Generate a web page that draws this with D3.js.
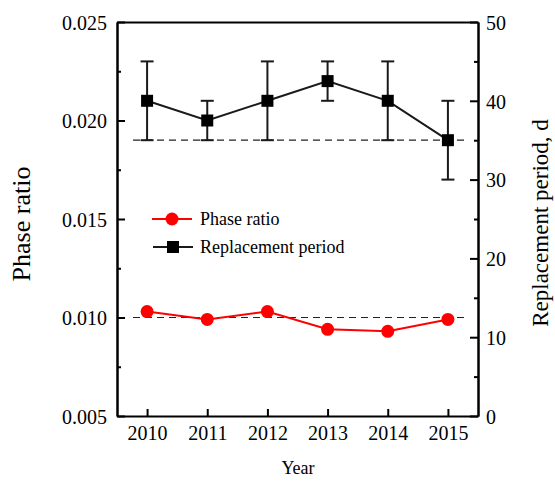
<!DOCTYPE html>
<html><head><meta charset="utf-8">
<script src="https://cdn.jsdelivr.net/npm/d3@7/dist/d3.min.js"></script>
<style>
body{margin:0;background:#fff;}
text{font-family:"Liberation Serif","Times New Roman",serif;fill:#000;}
</style></head>
<body><svg id="c" width="555" height="481"></svg>
<script>
const years = [2010, 2011, 2012, 2013, 2014, 2015];
const phaseRatio = [0.0103, 0.0099, 0.0103, 0.0094, 0.0093, 0.0099];
const replacement = [40, 37.5, 40, 42.5, 40, 35];
const replUpper = [45, 40, 45, 45, 45, 40];
const replLower = [35, 35, 35, 40, 35, 30];
const leftTicks = [0.005, 0.010, 0.015, 0.020, 0.025];
const leftMinor = [0.0075, 0.0125, 0.0175, 0.0225];
const rightTicks = [0, 10, 20, 30, 40, 50];
const rightMinor = [5, 15, 25, 35, 45];
const phaseRef = 0.010;
const replRef = 35;

const svg = d3.select("#c");
const L = 117, R = 478, T = 22, B = 416;
const x = d3.scaleLinear().domain([2009.5, 2015.5]).range([L, R]);
const yL = d3.scaleLinear().domain([0.005, 0.025]).range([B, T]);
const yR = d3.scaleLinear().domain([0, 50]).range([B, T]);

// dashed reference lines
const dashX0 = 133, dashX1 = 467;
svg.append("line").attr("x1", dashX0).attr("x2", dashX1)
  .attr("y1", yR(replRef)).attr("y2", yR(replRef))
  .attr("stroke", "#222").attr("stroke-width", 1.2).attr("stroke-dasharray", "7,5");
svg.append("line").attr("x1", dashX0).attr("x2", dashX1)
  .attr("y1", yL(phaseRef)).attr("y2", yL(phaseRef))
  .attr("stroke", "#222").attr("stroke-width", 1.2).attr("stroke-dasharray", "7,5");

// axes
const fmt = d3.format(".3f");
const gL = svg.append("g").attr("transform", `translate(${L},0)`)
  .call(d3.axisLeft(yL).tickValues(leftTicks).tickFormat(fmt).tickSizeInner(-8).tickSizeOuter(0).tickPadding(10));
svg.append("g").attr("transform", `translate(${L},0)`)
  .call(d3.axisLeft(yL).tickValues(leftMinor).tickFormat("").tickSizeInner(-4).tickSizeOuter(0));
const gR = svg.append("g").attr("transform", `translate(${R},0)`)
  .call(d3.axisRight(yR).tickValues(rightTicks).tickSizeInner(-8).tickSizeOuter(0).tickPadding(8));
svg.append("g").attr("transform", `translate(${R},0)`)
  .call(d3.axisRight(yR).tickValues(rightMinor).tickFormat("").tickSizeInner(-4).tickSizeOuter(0));
const gB = svg.append("g").attr("transform", `translate(0,${B})`)
  .call(d3.axisBottom(x).tickValues(years).tickFormat(d3.format("d")).tickSizeInner(-7).tickSizeOuter(0).tickPadding(10));
svg.append("g").attr("transform", `translate(0,${T})`)
  .call(d3.axisTop(x).tickValues([]).tickSizeOuter(0));
svg.selectAll("g").attr("font-family", "'Liberation Serif', serif");
svg.selectAll(".domain").attr("stroke", "#000").attr("stroke-width", 2);
svg.selectAll(".tick line").attr("stroke", "#000").attr("stroke-width", 2);
svg.selectAll(".tick text").style("font-size", "20px").style("font-family", "'Liberation Serif', serif");
gL.selectAll(".tick text").attr("dy", "0.36em");
gR.selectAll(".tick text").attr("dy", "0.36em");

// axis titles
svg.append("text").attr("transform", "translate(30,224) rotate(-90)")
  .attr("text-anchor", "middle").style("font-size", "26px").text("Phase ratio");
svg.append("text").attr("transform", "translate(548,223) rotate(-90)")
  .attr("text-anchor", "middle").style("font-size", "23px").text("Replacement period, d");
svg.append("text").attr("x", 298).attr("y", 474)
  .attr("text-anchor", "middle").style("font-size", "18px").text("Year");

// replacement period series
const black = "#1a1a1a";
const rData = years.map((y, i) => ({y, v: replacement[i], hi: replUpper[i], lo: replLower[i]}));
const eb = svg.append("g").attr("stroke", black).attr("stroke-width", 2);
rData.forEach(d => {
  eb.append("line").attr("x1", x(d.y)).attr("x2", x(d.y)).attr("y1", yR(d.hi)).attr("y2", yR(d.lo));
  eb.append("line").attr("x1", x(d.y) - 6.5).attr("x2", x(d.y) + 6.5).attr("y1", yR(d.hi)).attr("y2", yR(d.hi));
  eb.append("line").attr("x1", x(d.y) - 6.5).attr("x2", x(d.y) + 6.5).attr("y1", yR(d.lo)).attr("y2", yR(d.lo));
});
svg.append("path").datum(rData)
  .attr("d", d3.line().x(d => x(d.y)).y(d => yR(d.v)))
  .attr("fill", "none").attr("stroke", black).attr("stroke-width", 2);
svg.selectAll(".sq").data(rData).enter().append("rect")
  .attr("x", d => x(d.y) - 6).attr("y", d => yR(d.v) - 6)
  .attr("width", 12).attr("height", 12).attr("fill", "#000");

// phase ratio series
const red = "#ff0000";
const pData = years.map((y, i) => ({y, v: phaseRatio[i]}));
svg.append("path").datum(pData)
  .attr("d", d3.line().x(d => x(d.y)).y(d => yL(d.v)))
  .attr("fill", "none").attr("stroke", red).attr("stroke-width", 2);
svg.selectAll(".ci").data(pData).enter().append("circle")
  .attr("cx", d => x(d.y)).attr("cy", d => yL(d.v)).attr("r", 6.5).attr("fill", red);

// legend
const lg = svg.append("g");
lg.append("line").attr("x1", 152).attr("x2", 192).attr("y1", 219).attr("y2", 219).attr("stroke", red).attr("stroke-width", 2);
lg.append("circle").attr("cx", 172).attr("cy", 219).attr("r", 6.5).attr("fill", red);
lg.append("text").attr("x", 200).attr("y", 225).style("font-size", "18px").text("Phase ratio");
lg.append("line").attr("x1", 153).attr("x2", 193).attr("y1", 247).attr("y2", 247).attr("stroke", black).attr("stroke-width", 2);
lg.append("rect").attr("x", 167).attr("y", 241).attr("width", 12).attr("height", 12).attr("fill", "#000");
lg.append("text").attr("x", 200).attr("y", 253).style("font-size", "18px").text("Replacement period");
</script></body></html>
